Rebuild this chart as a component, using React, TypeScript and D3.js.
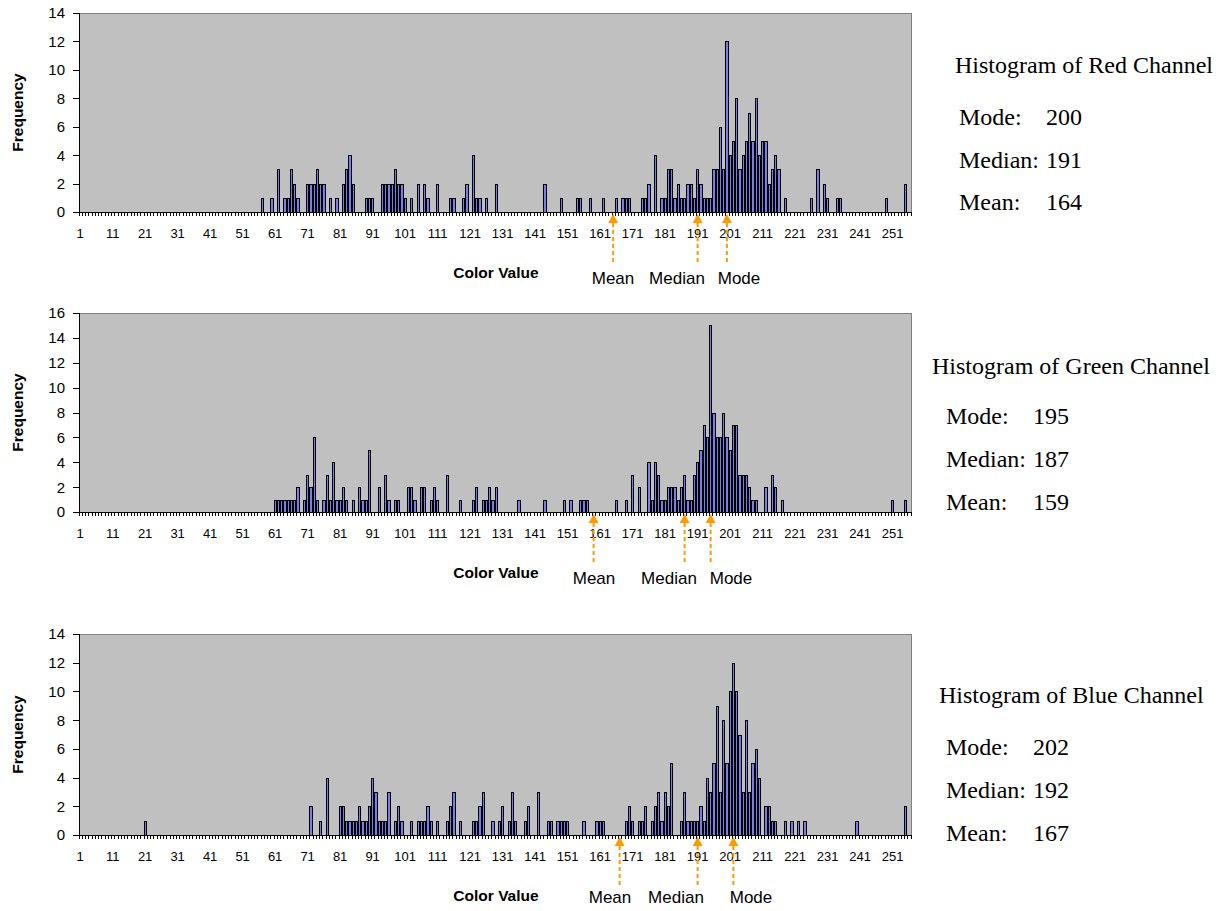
import React from 'react';
import * as d3 from 'd3';

// colour values 1..256 are the categories
const colorValues = d3.range(1, 257);
const xTickLabels = [1, 11, 21, 31, 41, 51, 61, 71, 81, 91, 101, 111, 121, 131, 141, 151, 161, 171, 181, 191, 201, 211, 221, 231, 241, 251];

// [color value, frequency] for every non-empty bin
const redCounts: [number, number][] = [
  [57, 1], [60, 1], [62, 3], [64, 1], [65, 1], [66, 3], [67, 2], [68, 1], [71, 2], [72, 2], [73, 2], [74, 3],
  [75, 2], [76, 2], [78, 1], [80, 1], [82, 2], [83, 3], [84, 4], [85, 2], [89, 1], [90, 1], [91, 1], [94, 2],
  [95, 2], [96, 2], [97, 2], [98, 3], [99, 2], [100, 2], [101, 1], [103, 1], [105, 2], [107, 2], [108, 1],
  [111, 2], [115, 1], [116, 1], [119, 1], [120, 2], [122, 4], [123, 1], [124, 1], [126, 1], [129, 2], [144, 2],
  [149, 1], [154, 1], [155, 1], [158, 1], [162, 1], [166, 1], [168, 1], [169, 1], [170, 1], [174, 1], [175, 1],
  [176, 2], [178, 4], [180, 1], [181, 1], [182, 3], [183, 3], [184, 1], [185, 2], [186, 1], [187, 1], [188, 2],
  [189, 2], [190, 1], [191, 3], [192, 2], [193, 1], [194, 1], [195, 1], [196, 3], [197, 3], [198, 6], [199, 3],
  [200, 12], [201, 4], [202, 5], [203, 8], [204, 3], [205, 4], [206, 5], [207, 7], [208, 5], [209, 8], [210, 4],
  [211, 5], [212, 5], [213, 2], [214, 3], [215, 4], [216, 3], [218, 1], [226, 1], [228, 3], [230, 2], [231, 1],
  [234, 1], [235, 1], [249, 1], [255, 2],
];

const greenCounts: [number, number][] = [
  [61, 1], [62, 1], [63, 1], [64, 1], [65, 1], [66, 1], [67, 1], [68, 2], [70, 1], [71, 3], [72, 2], [73, 6],
  [74, 1], [76, 1], [77, 3], [78, 1], [79, 4], [80, 1], [81, 1], [82, 2], [83, 1], [85, 1], [87, 2], [88, 1],
  [89, 1], [90, 5], [93, 2], [95, 3], [96, 1], [98, 1], [99, 1], [102, 2], [103, 2], [104, 1], [106, 2], [107, 2],
  [109, 1], [110, 2], [111, 1], [114, 3], [118, 1], [122, 1], [123, 2], [125, 1], [126, 1], [127, 2], [128, 1],
  [129, 2], [136, 1], [144, 1], [150, 1], [152, 1], [155, 1], [156, 1], [157, 1], [166, 1], [169, 1], [171, 3],
  [173, 2], [176, 4], [177, 1], [178, 4], [179, 3], [180, 1], [181, 1], [182, 2], [183, 2], [184, 2], [185, 1],
  [186, 2], [187, 3], [188, 1], [189, 1], [190, 3], [191, 4], [192, 5], [193, 7], [194, 6], [195, 15], [196, 8],
  [197, 6], [198, 6], [199, 8], [200, 6], [201, 5], [202, 7], [203, 7], [204, 3], [205, 3], [206, 3], [207, 2],
  [208, 1], [209, 1], [212, 2], [214, 3], [215, 2], [217, 1], [251, 1], [255, 1],
];

const blueCounts: [number, number][] = [
  [21, 1], [72, 2], [75, 1], [77, 4], [81, 2], [82, 2], [83, 1], [84, 1], [85, 1], [86, 1], [87, 2], [88, 1],
  [89, 1], [90, 2], [91, 4], [92, 3], [93, 1], [94, 1], [95, 1], [96, 3], [98, 1], [99, 2], [100, 1], [103, 1],
  [105, 1], [106, 1], [107, 1], [108, 2], [109, 1], [111, 1], [114, 1], [115, 2], [116, 3], [118, 1], [122, 1],
  [123, 1], [124, 2], [125, 3], [128, 1], [130, 1], [131, 2], [133, 1], [134, 3], [135, 1], [138, 1], [139, 2],
  [142, 3], [145, 1], [146, 1], [148, 1], [149, 1], [150, 1], [151, 1], [156, 1], [160, 1], [161, 1], [162, 1],
  [169, 1], [170, 2], [171, 1], [173, 1], [174, 1], [175, 2], [177, 1], [178, 2], [179, 3], [180, 1], [181, 3],
  [182, 2], [183, 5], [186, 1], [187, 3], [188, 1], [189, 1], [190, 1], [191, 1], [192, 2], [193, 1], [194, 4],
  [195, 3], [196, 5], [197, 9], [198, 3], [199, 8], [200, 5], [201, 10], [202, 12], [203, 10], [204, 7], [205, 3],
  [206, 8], [207, 3], [208, 5], [209, 6], [210, 4], [212, 2], [213, 2], [214, 1], [215, 1], [218, 1], [220, 1],
  [222, 1], [224, 1], [240, 1], [255, 2],
];

// where the orange arrows point: mean, median, mode
const arrowNames = ['Mean', 'Median', 'Mode'];
const redArrows = [165, 191, 200];
const greenArrows = [159, 187, 195];
const blueArrows = [167, 191, 202];

const statNames = ['Mode:', 'Median:', 'Mean:'];
const redStats = [200, 191, 164];
const greenStats = [195, 187, 159];
const blueStats = [202, 192, 167];

const SANS = '"Liberation Sans", Arial, sans-serif';
const SERIF = '"Liberation Serif", "Times New Roman", serif';
const ORANGE = '#FF9900';

const PLOT_LEFT = 79;
const PLOT_RIGHT = 911;

const x = d3.scaleBand<number>().domain(colorValues).range([78.5, 910.5]).paddingInner(0).paddingOuter(0);

function Histogram(props: {
  top: number; bottom: number; yMax: number; counts: [number, number][]; arrows: number[];
  labelX: number[]; labelY: number; title: string; stats: number[];
  titleX: number; titleY: number; statX: number; valueX: number; statY: number[];
}) {
  const { top, bottom, yMax, counts, arrows, labelX, labelY, title, stats, titleX, titleY, statX, valueX, statY } = props;
  const y = d3.scaleLinear().domain([0, yMax]).range([bottom, top]);
  const bw = x.bandwidth();
  const series = new Array(256).fill(0);
  counts.forEach(([v, c]) => { series[v - 1] = c; });
  const yTicks = d3.range(0, yMax + 1, 2);
  const midY = (top + bottom) / 2;

  return (
    <g>
      <rect x={PLOT_LEFT + 0.5} y={top + 0.5} width={PLOT_RIGHT - PLOT_LEFT} height={bottom - top}
        fill="#C0C0C0" stroke="#808080" strokeWidth={1} />
      {colorValues.map((v, i) => {
        const c = series[i];
        if (!c) return null;
        const x0 = Math.round(x(v)!);
        const x1 = Math.round(x(v)! + bw);
        const yt = Math.round(y(c));
        return (
          <rect key={v} x={x0 + 0.5} y={yt + 0.5} width={Math.max(2, x1 - x0 - 1)} height={bottom - yt}
            fill="#7C7CEC" stroke="#000" strokeWidth={1} shapeRendering="crispEdges" />
        );
      })}
      {/* axes */}
      <line x1={PLOT_LEFT + 0.5} x2={PLOT_LEFT + 0.5} y1={top} y2={bottom + 1} stroke="#000" />
      <line x1={PLOT_LEFT} x2={PLOT_RIGHT + 1} y1={bottom + 0.5} y2={bottom + 0.5} stroke="#000" />
      {yTicks.map((t) => (
        <g key={t}>
          <line x1={PLOT_LEFT - 6} x2={PLOT_LEFT} y1={Math.round(y(t)) + 0.5} y2={Math.round(y(t)) + 0.5} stroke="#000" />
          <text x={PLOT_LEFT - 14} y={y(t)} dy="0.36em" textAnchor="end" fontFamily={SANS} fontSize={15}>{t}</text>
        </g>
      ))}
      {colorValues.concat([257]).map((v) => {
        const xx = Math.round(v === 257 ? x(256)! + bw : x(v)!) + 0.5;
        return <line key={'t' + v} x1={xx} x2={xx} y1={bottom} y2={bottom + 4} stroke="#000" />;
      })}
      {xTickLabels.map((v) => (
        <text key={'l' + v} x={x(v)! + bw / 2} y={bottom + 26} textAnchor="middle" fontFamily={SANS} fontSize={13}>{v}</text>
      ))}
      <text transform={`translate(17,${midY}) rotate(-90)`} textAnchor="middle" dy="0.36em"
        fontFamily={SANS} fontSize={15.5} fontWeight="bold">Frequency</text>
      <text x={496} y={bottom + 66} textAnchor="middle" fontFamily={SANS} fontSize={15.5} fontWeight="bold">Color Value</text>
      {/* mean / median / mode markers */}
      {arrows.map((v, i) => {
        const ax = x(v)! + bw / 2;
        return (
          <g key={'a' + i}>
            <path d={`M${ax},${bottom + 2}L${ax - 5},${bottom + 11}L${ax + 5},${bottom + 11}Z`} fill={ORANGE} />
            <line x1={ax} x2={ax} y1={bottom + 11} y2={bottom + 51} stroke={ORANGE} strokeWidth={2} strokeDasharray="4,3" />
            <text x={labelX[i]} y={labelY} textAnchor="middle" fontFamily={SANS} fontSize={17}>{arrowNames[i]}</text>
          </g>
        );
      })}
      <text x={titleX} y={titleY} fontFamily={SERIF} fontSize={24}>{title}</text>
      {statNames.map((s, i) => (
        <g key={s}>
          <text x={statX} y={statY[i]} fontFamily={SERIF} fontSize={24}>{s}</text>
          <text x={valueX} y={statY[i]} fontFamily={SERIF} fontSize={24}>{stats[i]}</text>
        </g>
      ))}
    </g>
  );
}

export default function App() {
  return (
    <svg width={1222} height={911} style={{ position: 'absolute', left: 0, top: 0, display: 'block', background: '#fff' }}>
      <Histogram top={13} bottom={212} yMax={14} counts={redCounts} arrows={redArrows}
        labelX={[613, 677, 739]} labelY={284} title="Histogram of Red Channel" stats={redStats}
        titleX={955} titleY={73} statX={959} valueX={1046} statY={[125, 168, 210]} />
      <Histogram top={313} bottom={512} yMax={16} counts={greenCounts} arrows={greenArrows}
        labelX={[594, 669, 731]} labelY={584} title="Histogram of Green Channel" stats={greenStats}
        titleX={932} titleY={374} statX={946} valueX={1033} statY={[424, 467, 510]} />
      <Histogram top={634} bottom={835} yMax={14} counts={blueCounts} arrows={blueArrows}
        labelX={[610, 676, 751]} labelY={903} title="Histogram of Blue Channel" stats={blueStats}
        titleX={939} titleY={703} statX={946} valueX={1033} statY={[755, 798, 841]} />
    </svg>
  );
}
